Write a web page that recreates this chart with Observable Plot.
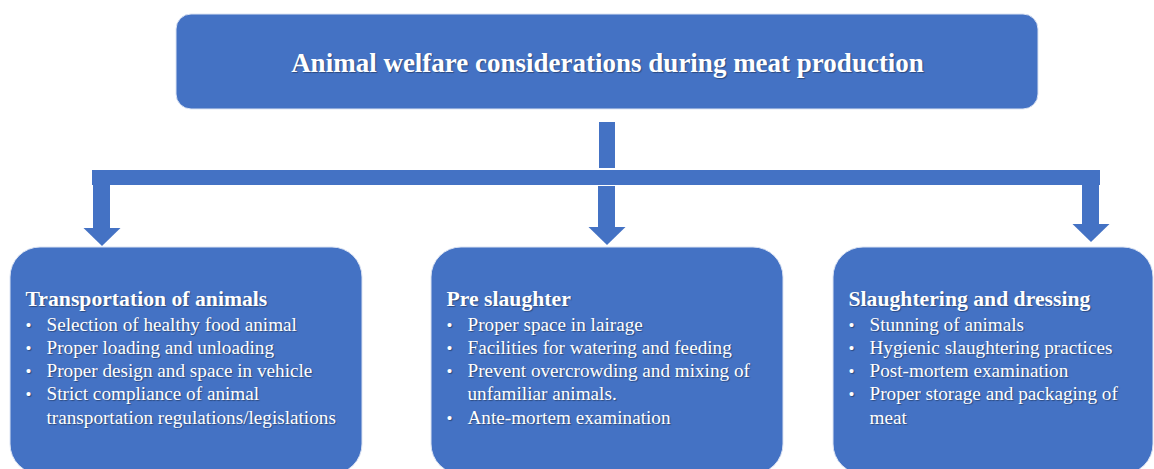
<!DOCTYPE html>
<html>
<head>
<meta charset="utf-8">
<script src="https://cdn.jsdelivr.net/npm/d3@7"></script>
<script src="https://cdn.jsdelivr.net/npm/@observablehq/plot@0.6"></script>
<style>
  html, body { margin: 0; padding: 0; background: #fff; overflow: hidden; }
  svg { overflow: hidden; }
</style>
</head>
<body>
<div id="chart"></div>
<script>
// ---- data ----
const title = "Animal welfare considerations during meat production";
const headings = ["Transportation of animals", "Pre slaughter", "Slaughtering and dressing"];
const bulletItems = [
  ["Selection of healthy food animal", "Proper loading and unloading", "Proper design and space in vehicle", "Strict compliance of animal\ntransportation regulations/legislations"],
  ["Proper space in lairage", "Facilities for watering and feeding", "Prevent overcrowding and mixing of\nunfamiliar animals.", "Ante-mortem examination"],
  ["Stunning of animals", "Hygienic slaughtering practices", "Post-mortem examination", "Proper storage and packaging of\nmeat"]
];

// ---- layout (diagram geometry) ----
const W = 1154, H = 469;
const blue = "#4472C4";
const topBox = {x1: 176, x2: 1038, y1: 14, y2: 109};
const boxes = [
  {x1: 10, x2: 362, y1: 247, y2: 474},
  {x1: 431, x2: 783, y1: 247, y2: 474},
  {x1: 833, x2: 1153, y1: 247, y2: 474}
];
const arrowCx = [102, 607, 1091];
const arrowTip = [246, 245, 242];
const arrowTop = [185, 186, 176];

const rects = [
  {x1: 599, x2: 615, y1: 122, y2: 168},   // stem
  {x1: 92, x2: 1100, y1: 170, y2: 185},   // horizontal bar
  ...arrowCx.map((c, i) => ({x1: c - 9, x2: c + 8, y1: arrowTop[i], y2: arrowTip[i] - 17}))
];
const heads = arrowCx.flatMap((c, i) => [
  {k: i, x: c - 18.5, y1: arrowTip[i] - 18, y2: arrowTip[i] - 18},
  {k: i, x: c, y1: arrowTip[i] - 18, y2: arrowTip[i]},
  {k: i, x: c + 18.5, y1: arrowTip[i] - 18, y2: arrowTip[i] - 18}
]);

const lineGap = 23.3;
const headRows = headings.map((h, i) => ({text: h, x: boxes[i].x1 + 15, y: 305}));
const bulletRows = [], dotRows = [];
bulletItems.forEach((items, i) => {
  let line = 0;
  items.forEach(item => {
    const parts = item.split("\n");
    dotRows.push({x: boxes[i].x1 + 15, y: 330 + line * lineGap});
    parts.forEach(p => {
      bulletRows.push({text: p, x: boxes[i].x1 + 36, y: 330 + line * lineGap});
      line++;
    });
  });
});

const shadow = "1px 1px 1px rgba(0,0,0,0.35)";
const chart = Plot.plot({
  width: W, height: H, margin: 0,
  x: {domain: [0, W], range: [0, W], axis: null},
  y: {domain: [0, H], range: [0, H], axis: null},
  style: {background: "white"},
  marks: [
    Plot.rect([topBox], {x1: "x1", x2: "x2", y1: "y1", y2: "y2", fill: blue, rx: 15, stroke: "#dbe3f3", strokeWidth: 1}),
    Plot.rect(boxes, {x1: "x1", x2: "x2", y1: "y1", y2: "y2", fill: blue, rx: 30, stroke: "#dbe3f3", strokeWidth: 1}),
    Plot.rect(rects, {x1: "x1", x2: "x2", y1: "y1", y2: "y2", fill: blue}),
    Plot.areaY(heads, {x: "x", y1: "y1", y2: "y2", z: "k", fill: blue, curve: "linear"}),
    Plot.text([title], {x: 607, y: 71, text: d => d, fill: "white", fontSize: 27, fontWeight: "bold",
      fontFamily: "Liberation Serif", textAnchor: "middle", lineAnchor: "bottom"}),
    Plot.text(headRows, {x: "x", y: "y", text: "text", fill: "white", fontSize: 21.7, fontWeight: "bold",
      fontFamily: "Liberation Serif", textAnchor: "start", lineAnchor: "bottom"}),
    Plot.text(dotRows, {x: "x", y: "y", text: d => "•", fill: "white", fontSize: 17,
      fontFamily: "Liberation Serif", textAnchor: "start", lineAnchor: "bottom"}),
    Plot.text(bulletRows, {x: "x", y: "y", text: "text", fill: "white", fontSize: 19.2,
      fontFamily: "Liberation Serif", textAnchor: "start", lineAnchor: "bottom"})
  ]
});
d3.select(chart).selectAll("text").style("text-shadow", shadow);
document.getElementById("chart").appendChild(chart);
</script>
</body>
</html>
